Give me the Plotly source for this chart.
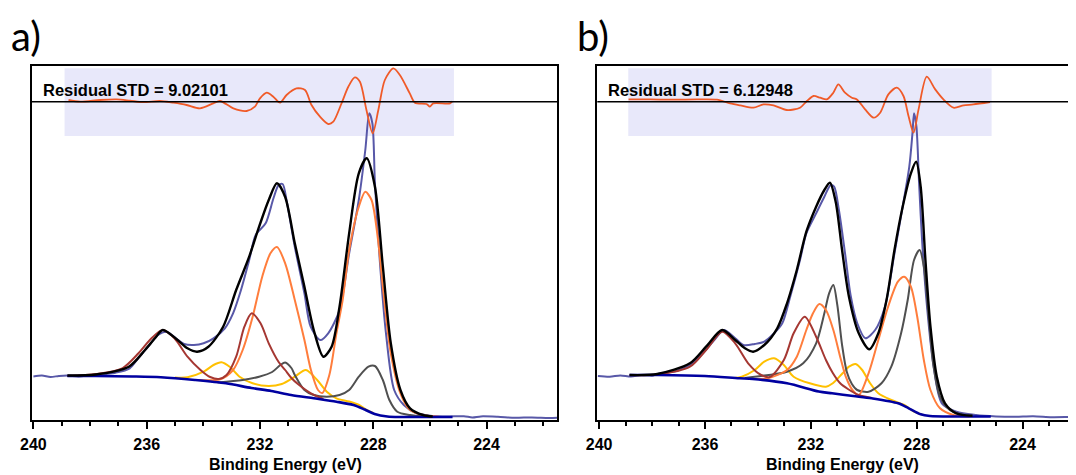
import plotly.graph_objects as go

# ---------------- Panel a (a.u.) ----------------
A_DATA_X = [240.0, 239.7, 239.4, 239.1, 238.8, 238.4, 238.0, 237.6, 237.1, 236.6, 236.3, 235.95, 235.6, 235.3,
            234.97, 234.68, 234.33, 233.99, 233.64, 233.24, 232.95, 232.67, 232.38, 232.15, 231.8, 231.52,
            231.34, 231.2, 231.05, 230.77, 230.43, 230.21, 229.87, 229.59, 229.19, 228.85, 228.51, 228.28,
            228.14, 228.03, 227.94, 227.77, 227.55, 227.26, 226.92, 226.47, 225.9, 225.4, 224.8, 224.5,
            224.2, 223.6, 223.0, 222.4, 221.8, 221.5]
A_DATA_Y = [43.5, 44.4, 43.1, 44.0, 44.5, 43.6, 44.8, 45.5, 47.3, 51.7, 61.7, 73.3, 85, 88.3,
            81.7, 76, 75, 76.7, 81.7, 91.7, 106.7, 130, 160, 185, 196.7, 222,
            235, 236, 218, 173.3, 126.7, 93.3, 80, 86.7, 110, 166.7, 220, 270,
            306.7, 296.7, 236.7, 160, 86.7, 30, 15, 6.7, 4, 3.5, 3.8, 2.6,
            3.6, 3.2, 2.2, 2.6, 2.0, 2.2]

A_FIT_X = [238.8, 237.8, 236.63, 236.06, 235.7, 235.43, 234.91, 234.56, 234.22, 233.82, 233.3, 232.84,
           232.38, 232.03, 231.69, 231.4, 231.11, 230.77, 230.43, 230.1, 229.76, 229.47, 229.19, 228.85,
           228.51, 228.23, 227.94, 227.66, 227.38, 227.04, 226.7, 226.24, 225.9]
A_FIT_Y = [44.5, 45.5, 53.3, 70, 82, 90, 80, 71.7, 68.3, 73.3, 93.3, 130,
           163.3, 193.3, 220, 236.7, 223, 176.7, 133.3, 90, 63.3, 73.3, 113.3, 186.7,
           246.7, 261.7, 233.3, 153.3, 76.7, 30, 11.7, 5, 3.5]

A_BG_X = [238.8, 237.8, 236.5, 235.5, 234.3, 233.2, 232.3, 231.6, 230.9, 230.1, 229.3, 228.7,
          228.3, 227.95, 227.5, 227.0, 226.0, 225.2]
A_BG_Y = [44, 44, 43.5, 42.7, 40, 36.7, 32, 29, 25, 21.7, 18.3, 15,
          10.5, 6, 3.5, 3, 3, 3]

A_BROWN_X = [238.8, 237.78, 236.86, 236.29, 235.83, 235.43, 235.02, 234.56, 234.1, 233.76, 233.45,
             233.18, 232.84, 232.55, 232.29, 231.98, 231.69, 231.34, 231.11, 230.89, 230.66, 230.2, 229.76]
A_BROWN_Y = [44, 46, 51.7, 66.7, 81.7, 90, 81.7, 63.3, 50, 43, 41,
             45, 63.3, 93.3, 106.7, 96.7, 76.7, 58, 50, 42, 36, 26.7, 21]

A_ORANGE_X = [234.2, 233.41, 232.95, 232.61, 232.26, 231.92, 231.63, 231.4, 231.11, 230.77, 230.43,
              230.2, 229.95, 229.8, 229.55, 229.3, 229.08, 228.85, 228.51, 228.28, 228.06, 227.83,
              227.66, 227.38, 227.04, 226.7, 226.24, 225.68]
A_ORANGE_Y = [40, 40.7, 50, 70, 103, 143.3, 166.7, 173, 156.7, 120, 80,
              50, 30, 27, 45, 86.7, 120, 170, 213.3, 228.3, 220, 180,
              133.3, 66.7, 26.7, 10, 5, 3.3]

A_GRAY_X = [233.5, 232.61, 232.03, 231.57, 231.28, 231.11, 230.89, 230.77, 230.43, 230.1, 229.64,
            229.19, 228.85, 228.51, 228.17, 227.94, 227.66, 227.43, 227.15, 226.7, 226.2]
A_GRAY_Y = [37.5, 40, 43.3, 48, 55, 57.5, 52, 45, 30, 25, 23.3,
            25, 30, 43.3, 53.3, 54, 40, 20, 8.3, 5, 3.5]

A_GOLD_X = [235.0, 234.56, 233.99, 233.64, 233.36, 233.07, 232.72, 232.26, 231.69, 231.23, 230.77,
            230.38, 229.98, 229.64, 229.3, 228.85, 228.5, 228.28, 228.0]
A_GOLD_Y = [42.5, 42.7, 48.3, 55, 57.7, 53.3, 43.3, 36.7, 34, 36, 43.3,
            50, 40, 28.3, 21.7, 18.5, 15, 11, 7]

A_RES_X = [238.76, 238.35, 237.65, 237.06, 236.59, 236.12, 235.53, 235.06, 234.59, 234.12, 233.65,
           233.41, 232.94, 232.47, 232.18, 232.0, 231.76, 231.53, 231.29, 231.06, 230.71, 230.41,
           230.18, 229.88, 229.59, 229.41, 229.12, 228.88, 228.65, 228.47, 228.24, 228.02, 227.82,
           227.59, 227.29, 227.06, 226.71, 226.53, 226.12, 226.0, 225.88, 225.29, 225.2]
A_RES_Y = [1.7, 0, 1.7, 2.3, 1.0, -0.5, 0.7, -1, -3.3, -6.7, -1.7,
           0.7, -6.7, -9.3, -5, 3.3, 9, 5, -1, 6.7, 13.3, 11.7,
           -3.3, -15, -22.3, -20, -1.7, 15, 24.3, 20, -8.3, -31.7, -8.3,
           21.7, 33.3, 26.7, 8.3, -1, -2.3, -5, -1.7, -1.7, 0.5]

# ---------------- Panel b ----------------
B_DATA_X = [240.05, 239.6, 239.2, 238.8, 238.4, 238.0, 237.8, 237.06, 236.57, 236.08, 235.65, 235.29,
            234.92, 234.55, 234.12, 233.76, 233.39, 233.08, 232.78, 232.41, 232.17, 231.8, 231.49,
            231.25, 231.12, 230.94, 230.7, 230.5, 230.25, 229.94, 229.57, 229.2, 228.84, 228.53,
            228.28, 228.16, 228.1, 228.01, 227.91, 227.79, 227.61, 227.36, 227.05, 226.5, 225.76,
            225.0, 224.3, 223.6, 222.9, 222.2, 221.98]
B_DATA_Y = [44, 43.2, 44.6, 43.5, 45, 44.3, 46, 49.3, 55, 66.7, 80, 90,
            83.3, 75, 76, 78.3, 86.7, 96.7, 123.3, 160, 186.7, 206.7, 223.3,
            235, 233.3, 210, 165, 125, 97, 81.7, 90, 113.3, 166.7, 213.3,
            253.3, 286.7, 306.7, 293.3, 236.7, 176.7, 113.3, 53.3, 16.7, 8.3, 5,
            3.6, 3.2, 3.8, 2.8, 3.0, 3.0]

B_FIT_X = [238.85, 237.8, 236.57, 235.96, 235.35, 234.86, 234.49, 234.18, 233.76, 233.27, 232.9,
           232.53, 232.17, 231.8, 231.49, 231.28, 231.06, 230.82, 230.56, 230.19, 229.79, 229.45,
           229.14, 228.84, 228.53, 228.22, 228.02, 227.85, 227.67, 227.48, 227.24, 226.93, 226.5, 225.89]
B_FIT_Y = [45, 46, 56.7, 73.3, 90, 80, 71.7, 68.3, 75, 91.7, 116.7,
           150, 188.3, 213.3, 230, 237.3, 218, 170, 123.3, 86.7, 70.7, 86.7,
           120, 170, 213.3, 246.7, 258.3, 233.3, 160, 93.3, 43.3, 16.7, 6.7, 4.3]

B_BG_X = [238.85, 237.8, 236.0, 234.7, 234.2, 232.9, 231.7, 231.2, 230.4, 229.7, 228.7, 228.3,
          227.85, 227.5, 226.5, 225.2]
B_BG_Y = [45, 45, 44, 41.7, 41, 36.7, 28.5, 26.7, 24, 21.7, 16.7, 11.7,
          5.7, 4, 3.5, 3.5]

B_BROWN_X = [238.85, 237.8, 236.57, 235.96, 235.35, 234.86, 234.37, 233.88, 233.55, 233.02, 232.65,
             232.23, 231.8, 231.43, 231.17, 230.9, 230.6, 230.2, 229.7]
B_BROWN_Y = [45, 45.5, 53.3, 70, 88.3, 76.7, 56.7, 45, 43, 60, 86.7,
             103.3, 83.3, 60, 47, 37, 31, 25, 22]

B_ORANGE_X = [234.2, 233.63, 232.9, 232.53, 232.17, 231.92, 231.68, 231.43, 231.15, 230.88, 230.68,
              230.43, 230.19, 229.82, 229.45, 229.08, 228.71, 228.47, 228.22, 227.98, 227.73, 227.48,
              227.12, 226.62, 226.0]
B_ORANGE_Y = [41, 41.7, 50, 63.3, 90, 106.7, 116, 110, 90, 62, 43.3,
              30, 25, 46.7, 80, 113.3, 138.3, 143.3, 133.3, 103.3, 60, 30,
              11.7, 5, 3.5]

B_GRAY_X = [234.5, 234.12, 232.9, 232.29, 231.8, 231.49, 231.31, 231.15, 231.0, 230.82, 230.64,
            230.45, 230.25, 229.82, 229.33, 228.96, 228.59, 228.34, 228.1, 227.89, 227.73, 227.55,
            227.36, 227.12, 226.75, 226.26]
B_GRAY_Y = [42, 43.3, 48.3, 56.7, 76.7, 106.7, 126.7, 135, 115, 75, 48,
            36, 30, 28.3, 36.7, 53.3, 86.7, 120, 160, 170, 153.3, 103.3,
            53.3, 23.3, 10, 5]

B_GOLD_X = [234.9, 234.61, 234.12, 233.76, 233.39, 233.02, 232.65, 232.04, 231.43, 231.17, 230.8,
            230.56, 230.31, 230.06, 229.76, 229.45, 228.96, 228.47, 228.1, 227.8]
B_GOLD_Y = [42, 43.3, 50, 58.3, 61.7, 55, 43.3, 36.7, 33.3, 36.7, 46.7,
            53.3, 56, 50, 36.7, 26.7, 20, 15, 8.3, 5.5]

B_RES_X = [238.89, 238.07, 237.19, 236.31, 235.55, 235.05, 234.67, 234.17, 233.79, 233.41, 232.91,
           232.41, 232.15, 231.9, 231.65, 231.4, 231.15, 230.96, 230.71, 230.45, 230.26, 229.95,
           229.63, 229.38, 229.07, 228.75, 228.5, 228.31, 228.12, 227.93, 227.62, 227.3, 226.99,
           226.61, 226.23, 225.86, 225.23]
B_RES_Y = [2.3, 2.3, 2.0, 2.3, 2.0, -1.7, -3.7, -6, -2.7, -3.7, -8.3,
           -6, 0.7, 5.7, 4, 2.3, 9, 17.3, 9, 4, 2.3, -7.7,
           -16, -11, 7.3, 14, 5.7, -14.3, -31, -7.7, 25, 12.3, 2.3,
           -6, -3.7, -2.7, -0.3]

TICK_VALS = [240, 236, 232, 228, 224]
TICK_TEXT = ["240", "236", "232", "228", "224"]
X_TITLE = "Binding Energy (eV)"
PANEL_LABELS = ["a)", "b)"]
RESID_LABELS = ["Residual STD = 9.02101", "Residual STD = 6.12948"]

C_DATA = "rgb(88,88,168)"
C_FIT = "black"
C_BG = "rgb(0,0,160)"
C_BROWN = "rgb(165,55,50)"
C_ORANGE = "rgb(255,125,60)"
C_GRAY = "rgb(80,80,80)"
C_GOLD = "rgb(255,192,0)"
C_RES = "rgb(240,90,40)"

# page body has an 8px margin: lay the figure out in screen pixels and shift
OFF = 8
SW, SH = 1076, 475
FW, FH = SW - OFF, SH - OFF


def PX(px):
    return (px - OFF) / FW


def PY(py):
    return (SH - py) / FH


fig = go.Figure()


def add_panel(xa, ya, yr, data, fit, bg, brown, orange, gray, gold, res):
    sp = dict(shape="spline", smoothing=0.8)
    fig.add_trace(go.Scatter(x=data[0], y=data[1], mode="lines", xaxis=xa, yaxis=ya,
                             line=dict(color=C_DATA, width=2, **sp), showlegend=False))
    for (xs, ys), col in [(gold, C_GOLD), (gray, C_GRAY), (orange, C_ORANGE), (brown, C_BROWN)]:
        fig.add_trace(go.Scatter(x=xs, y=ys, mode="lines", xaxis=xa, yaxis=ya,
                                 line=dict(color=col, width=2, **sp), showlegend=False))
    fig.add_trace(go.Scatter(x=bg[0], y=bg[1], mode="lines", xaxis=xa, yaxis=ya,
                             line=dict(color=C_BG, width=2.6, **sp), showlegend=False))
    fig.add_trace(go.Scatter(x=fit[0], y=fit[1], mode="lines", xaxis=xa, yaxis=ya,
                             line=dict(color=C_FIT, width=2.4, **sp), showlegend=False))
    fig.add_trace(go.Scatter(x=res[0], y=res[1], mode="lines", xaxis=xa, yaxis=yr,
                             line=dict(color=C_RES, width=1.8, **sp), showlegend=False))


add_panel("x", "y", "y3", (A_DATA_X, A_DATA_Y), (A_FIT_X, A_FIT_Y), (A_BG_X, A_BG_Y),
          (A_BROWN_X, A_BROWN_Y), (A_ORANGE_X, A_ORANGE_Y), (A_GRAY_X, A_GRAY_Y),
          (A_GOLD_X, A_GOLD_Y), (A_RES_X, A_RES_Y))
add_panel("x2", "y2", "y4", (B_DATA_X, B_DATA_Y), (B_FIT_X, B_FIT_Y), (B_BG_X, B_BG_Y),
          (B_BROWN_X, B_BROWN_Y), (B_ORANGE_X, B_ORANGE_Y), (B_GRAY_X, B_GRAY_Y),
          (B_GOLD_X, B_GOLD_Y), (B_RES_X, B_RES_Y))

ydom = [PY(420), PY(66)]
tickfont = dict(family="Liberation Sans", size=16, color="black", weight="bold")
xcommon = dict(showline=True, linecolor="black", linewidth=2, mirror=True, ticks="outside",
               tickvals=TICK_VALS, ticktext=TICK_TEXT, ticklen=7, tickwidth=1.5, tickcolor="black",
               showgrid=False, zeroline=False, tickfont=tickfont, ticklabelstandoff=2,
               automargin=False,
               minor=dict(dtick=1, tick0=0, ticks="outside", ticklen=4, tickwidth=1.5,
                          tickcolor="black", showgrid=False))
ycommon = dict(domain=ydom, range=[0, 354], showticklabels=False, ticks="", showgrid=False,
               zeroline=False, showline=True, linecolor="black", linewidth=2, automargin=False)
rcommon = dict(range=[-318.3, 35.7], visible=False, showgrid=False, zeroline=False,
               automargin=False)

fig.update_layout(
    template="none",
    width=FW, height=FH, margin=dict(l=0, r=0, t=0, b=0, pad=0, autoexpand=False),
    paper_bgcolor="white", plot_bgcolor="white",
    xaxis=dict(domain=[PX(32), PX(557.3)], range=[240.05, 221.5], anchor="y", **xcommon),
    xaxis2=dict(domain=[PX(597.3), 1.0], range=[240.07, 221.98], anchor="y2", **xcommon),
    yaxis=dict(anchor="x", mirror=True, **ycommon),
    yaxis2=dict(anchor="x2", mirror=False, **ycommon),
    yaxis3=dict(overlaying="y", anchor="x", **rcommon),
    yaxis4=dict(overlaying="y2", anchor="x2", **rcommon),
)

shapes = []
for xa, yr, x0, x1 in [("x", "y3", 238.9, 225.15), ("x2", "y4", 238.9, 225.17)]:
    shapes.append(dict(type="rect", xref=xa, yref=yr, x0=x0, x1=x1, y0=-34.3, y1=33.4,
                       fillcolor="rgb(232,232,250)", line=dict(width=0), layer="below"))
    shapes.append(dict(type="line", xref=xa + " domain", yref=yr, x0=0, x1=1, y0=0, y1=0,
                       line=dict(color="black", width=1.5), layer="above"))
fig.update_layout(shapes=shapes)

ann = []
for xa, xt in [("x", 231.1), ("x2", 230.8)]:
    ann.append(dict(text=X_TITLE, xref=xa, x=xt, yref="paper", y=PY(464),
                    xanchor="center", yanchor="middle", showarrow=False,
                    font=dict(family="Liberation Sans", size=16, color="black", weight="bold")))
for lab, px in zip(PANEL_LABELS, [9, 575]):
    ann.append(dict(text=lab, xref="paper", x=PX(px), yref="paper", y=PY(36),
                    xanchor="left", yanchor="middle", showarrow=False,
                    font=dict(family="Lato", size=40, color="black")))
for lab, px in zip(RESID_LABELS, [41, 606]):
    ann.append(dict(text=lab, xref="paper", x=PX(px), yref="paper", y=PY(90),
                    xanchor="left", yanchor="middle", showarrow=False,
                    font=dict(family="Liberation Sans", size=16.5, color="black", weight="bold")))
fig.update_layout(annotations=ann)

fig.write_html("out.html")
